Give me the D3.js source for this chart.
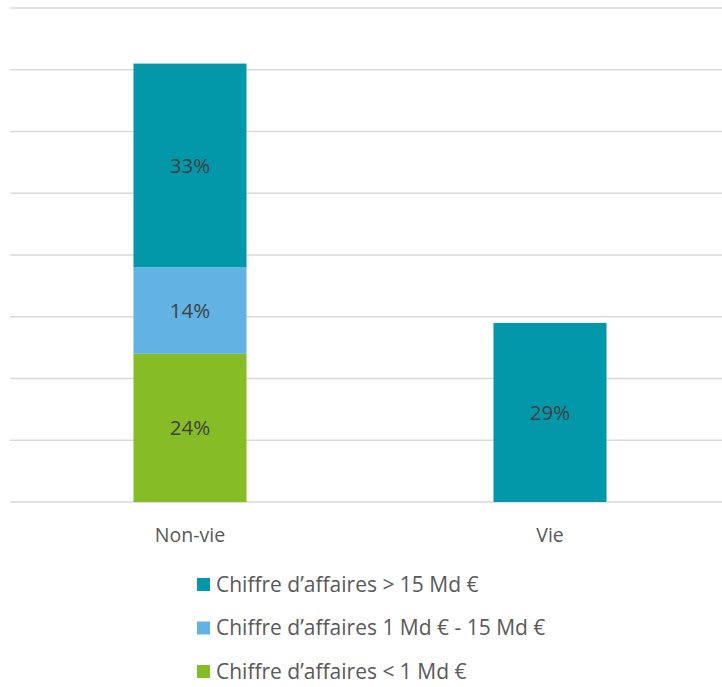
<!DOCTYPE html>
<html>
<head>
<meta charset="utf-8">
<script src="https://cdn.jsdelivr.net/npm/d3@7"></script>
<style>
  html, body { margin: 0; padding: 0; background: #fff; }
  svg { display: block; font-family: "Open Sans", "Lato", sans-serif; }
</style>
</head>
<body>
<svg id="chart" width="722" height="687"></svg>
<script>
// Categories and stacked series (share of premiums, %)
const categories = ["Non-vie", "Vie"];
const seriesNames = [
  "Chiffre d’affaires < 1 Md €",
  "Chiffre d’affaires 1 Md € - 15 Md €",
  "Chiffre d’affaires > 15 Md €"
];
const small = [24, 0];
const medium = [14, 0];
const large = [33, 29];
const seriesColors = ["#86BC25", "#62B3E4", "#0398A9"];
const yTicks = [0, 10, 20, 30, 40, 50, 60, 70, 80];
// Legend order as displayed (top to bottom)
const legendOrder = [2, 1, 0];

const rows = categories.map((c, i) => ({ cat: c, s0: small[i], s1: medium[i], s2: large[i] }));
const stack = d3.stack().keys(["s0", "s1", "s2"])(rows);

const svg = d3.select("#chart");
const x = d3.scaleBand().domain(categories).range([10, 730])
  .paddingInner(0.686).paddingOuter(0.343);
const y = d3.scaleLinear().domain([0, 80]).range([502, 8]);

// Horizontal gridlines
svg.append("g").selectAll("line").data(yTicks).join("line")
  .attr("x1", 10).attr("x2", 722)
  .attr("y1", d => y(d)).attr("y2", d => y(d))
  .attr("stroke", "#d9d9d9").attr("stroke-width", 1.5);

// Stacked bars
const layers = svg.append("g").selectAll("g").data(stack).join("g")
  .attr("fill", (d, i) => seriesColors[i]);
layers.selectAll("rect").data(d => d.filter(p => p[1] - p[0] > 0)).join("rect")
  .attr("x", d => x(d.data.cat))
  .attr("width", x.bandwidth())
  .attr("y", d => y(d[1]))
  .attr("height", d => y(d[0]) - y(d[1]));

// Value labels inside segments
layers.selectAll("text").data(d => d.filter(p => p[1] - p[0] > 0)).join("text")
  .attr("x", d => x(d.data.cat) + x.bandwidth() / 2)
  .attr("y", d => y((d[0] + d[1]) / 2))
  .attr("dy", "0.35em")
  .attr("text-anchor", "middle")
  .attr("fill", "#404040")
  .attr("font-size", 20.5)
  .text(d => (d[1] - d[0]) + "%");

// Category axis labels
svg.append("g").selectAll("text").data(categories).join("text")
  .attr("x", d => x(d) + x.bandwidth() / 2)
  .attr("y", 542)
  .attr("text-anchor", "middle")
  .attr("fill", "#595959")
  .attr("font-size", 19.5)
  .text(d => d);

// Legend
const legend = svg.append("g").selectAll("g").data(legendOrder).join("g")
  .attr("transform", (d, i) => `translate(197, ${578 + i * 43.5})`);
legend.append("rect")
  .attr("width", 13).attr("height", 13)
  .attr("fill", d => seriesColors[d]);
legend.append("text")
  .attr("x", 19).attr("y", 6.5).attr("dy", "0.35em")
  .attr("fill", "#595959")
  .attr("font-size", 21)
  .text(d => seriesNames[d]);
</script>
</body>
</html>
